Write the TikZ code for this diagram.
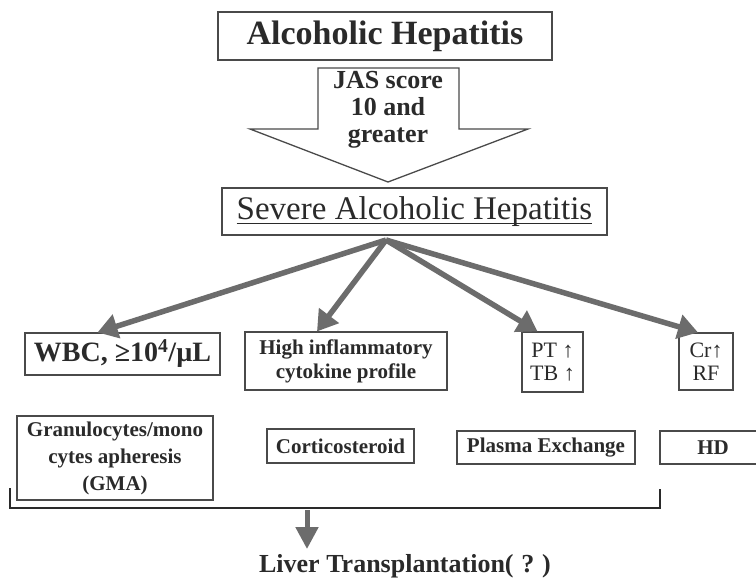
\documentclass[tikz,border=0pt]{standalone}
\usepackage{fontspec}
\setmainfont{Liberation Serif}
\usetikzlibrary{arrows.meta}
\definecolor{ink}{HTML}{2A2A2A}
\definecolor{edge}{HTML}{4A4A4A}
\definecolor{arr}{HTML}{6C6C6C}
\newcommand\fs[2]{\fontsize{#1}{#2}\selectfont}
\newcommand\myul[1]{\setbox0\hbox{#1}\rlap{\rule[-5pt]{\wd0}{1.3pt}}\box0}
\begin{document}
\begin{tikzpicture}[x=1pt,y=-1pt,
  box/.style={draw=edge, line width=1.1pt, inner sep=0pt, text=ink, align=center},
  fat/.style={draw=arr, line width=5.5pt, -{Triangle[length=20pt,width=24pt]}},
  lbl/.style={text=ink, align=center, inner sep=0pt}
]
\useasboundingbox[fill=white] (0,0) rectangle (756,582);

% top box
\node[box, minimum width=334pt, minimum height=48pt, font=\fs{34}{40}\bfseries] (ah) at (385,36) {Alcoholic Hepatitis};

% big arrow
\draw[draw=edge, line width=1.3pt, fill=white, line join=miter]
  (318,68) -- (459,68) -- (459,129) -- (528,129) -- (388,182) -- (250,129) -- (318,129) -- cycle;
\node[lbl, font=\fs{26}{27}\bfseries] (jas) at (388,110) {JAS score\\10 and\\greater};

% severe box
\node[box, minimum width=385pt, minimum height=47pt, font=\fs{33}{38}] (sev) at (414.5,211.5) {\myul{Severe Alcoholic Hepatitis}};

\coordinate (hub) at (386,240);

% criteria
\node[box, minimum width=195pt, minimum height=42pt, font=\fs{28}{32}\bfseries] (wbc) at (122.5,354) {WBC, ≥10\textsuperscript{4}/µL};
\node[box, minimum width=202pt, minimum height=58pt, font=\fs{21}{24}\bfseries] (inf) at (346,361) {High inflammatory\\cytokine profile};
\node[box, minimum width=61pt, minimum height=60pt, font=\fs{22}{23}] (pt) at (552.5,362) {PT ↑\\TB ↑};
\node[box, minimum width=54pt, minimum height=57pt, font=\fs{22}{23}] (cr) at (706,361.5) {Cr↑\\RF};

\draw[fat] (hub) -- ([xshift=-25pt]wbc.north);
\draw[fat] (hub) -- ([xshift=-29pt]inf.north);
\draw[fat] (hub) -- ([xshift=-15pt]pt.north);
\draw[fat] (hub) -- ([xshift=-8pt]cr.north);

% treatments
\node[box, minimum width=196pt, minimum height=84pt, font=\fs{21}{27}\bfseries] (gma) at (115,458) {Granulocytes/mono\\cytes apheresis\\(GMA)};
\node[box, minimum width=147pt, minimum height=34pt, font=\fs{21}{24}\bfseries] (cs) at (340.5,446) {Corticosteroid};
\node[box, minimum width=178pt, minimum height=33pt, font=\fs{21}{24}\bfseries] (pe) at (546,447.5) {Plasma Exchange};
\node[box, minimum width=106pt, minimum height=33pt, font=\fs{21}{24}\bfseries] (hd) at (713,447.5) {HD};

% bracket
\coordinate (bl) at (10,488);
\coordinate (br) at (660,489);
\coordinate (bk) at (307,508);
\draw[draw=ink, line width=1.6pt] (bl) |- (br |- bk) -- (br);

% down arrow
\coordinate (lt) at (307,549);
\draw[draw=arr, line width=5pt, -{Triangle[length=22pt,width=22pt]}] ([yshift=-2pt]bk) -- (lt);

\node[lbl, font=\fs{26}{30}\bfseries] (lv) at (405,566) {Liver Transplantation(\hspace{0.3em}?\hspace{0.3em})};
\end{tikzpicture}
\end{document}
